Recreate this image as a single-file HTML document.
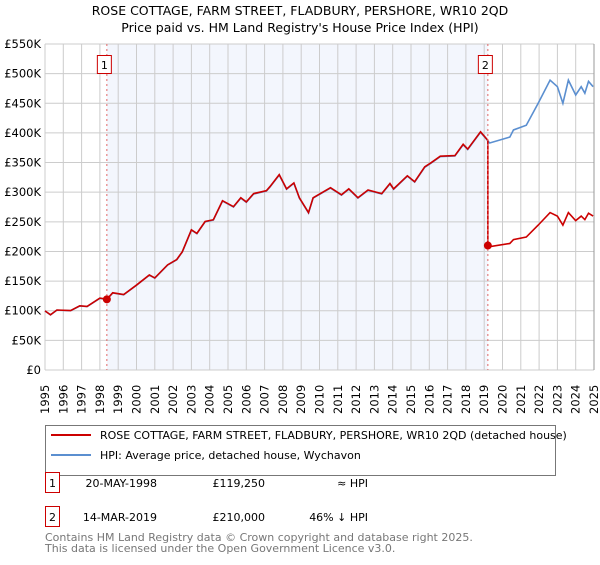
<!DOCTYPE html>
<html><head><meta charset="utf-8"><style>
body{margin:0;background:#fff;font-family:"Liberation Sans","DejaVu Sans",sans-serif;}
svg text{font-family:"DejaVu Sans","Liberation Sans",sans-serif;}
</style></head><body>
<svg id="chart" width="600" height="560" viewBox="0 0 600 560" xmlns="http://www.w3.org/2000/svg">
<text x="300" y="15" text-anchor="middle" font-size="12.5" fill="#000">ROSE COTTAGE, FARM STREET, FLADBURY, PERSHORE, WR10 2QD</text>
<text x="300" y="32" text-anchor="middle" font-size="12.5" fill="#000">Price paid vs. HM Land Registry's House Price Index (HPI)</text>
<g id="plot"></g>
<g>
<rect x="45.5" y="425.5" width="510" height="50" fill="#fff" stroke="#777"/>
<line x1="51" y1="435" x2="91" y2="435" stroke="#cc0000" stroke-width="2"/>
<text x="100" y="439" font-size="11">ROSE COTTAGE, FARM STREET, FLADBURY, PERSHORE, WR10 2QD (detached house)</text>
<line x1="51" y1="455" x2="91" y2="455" stroke="#5b8fd0" stroke-width="2"/>
<text x="100" y="459" font-size="11">HPI: Average price, detached house, Wychavon</text>
</g>
<g>
<rect x="45.5" y="472.5" width="14" height="20" fill="#fff" stroke="#cc0000"/>
<text x="52.5" y="487" text-anchor="middle" font-size="11">1</text>
<text x="157" y="487" text-anchor="end" font-size="11">20-MAY-1998</text>
<text x="265" y="487" text-anchor="end" font-size="11">£119,250</text>
<text x="368" y="487" text-anchor="end" font-size="11">≈ HPI</text>
<rect x="45.5" y="506.5" width="14" height="20" fill="#fff" stroke="#cc0000"/>
<text x="52.5" y="521" text-anchor="middle" font-size="11">2</text>
<text x="157" y="521" text-anchor="end" font-size="11">14-MAR-2019</text>
<text x="265" y="521" text-anchor="end" font-size="11">£210,000</text>
<text x="368" y="521" text-anchor="end" font-size="11">46% ↓ HPI</text>
</g>
<text x="45" y="541" font-size="11" fill="#777">Contains HM Land Registry data © Crown copyright and database right 2025.</text>
<text x="45" y="552" font-size="11" fill="#777">This data is licensed under the Open Government Licence v3.0.</text>
</svg>
<script>
const hpiYears=[1995.0,1995.3,1995.65,1996.4,1996.9,1997.3,1998.0,1998.38,1998.7,1999.3,2000.0,2000.7,2001.0,2001.7,2002.2,2002.5,2003.0,2003.3,2003.75,2004.2,2004.7,2005.3,2005.7,2006.0,2006.4,2007.1,2007.3,2007.8,2008.2,2008.6,2008.9,2009.4,2009.65,2010.6,2011.2,2011.6,2012.1,2012.65,2013.4,2013.85,2014.05,2014.8,2015.2,2015.75,2016.1,2016.6,2017.4,2017.85,2018.1,2018.8,2019.05,2019.3,2020.4,2020.6,2021.3,2021.95,2022.6,2023.0,2023.3,2023.6,2024.0,2024.3,2024.5,2024.7,2024.95];
const hpiValues=[99.5,93,101,100,108,107,121,119,130,127,143,160,155,177,186,199,236,230,250,253,285,275,290,283,297,302,309,329,305,315,290,265,290,307,295,305,290,303,297,314,305,327,317,342,349,360,361,380,372,401,392,383,393,405,413,450,489,478,450,489,464,478,467,487,478];
const saleYears=[1998.38,2019.2];
const salePrices=[119.25,210];
const saleLabels=["1","2"];
const yTicks=[0,50,100,150,200,250,300,350,400,450,500,550];
const yTickLabels=["£0","£50K","£100K","£150K","£200K","£250K","£300K","£350K","£400K","£450K","£500K","£550K"];
const xTicks=[1995,1996,1997,1998,1999,2000,2001,2002,2003,2004,2005,2006,2007,2008,2009,2010,2011,2012,2013,2014,2015,2016,2017,2018,2019,2020,2021,2022,2023,2024,2025];

const L=45,R=594,T=44,B=370;
const x=y=>L+(y-1995)/30*(R-L);
const yv=v=>B-v/550*(B-T);
const NS="http://www.w3.org/2000/svg";
const g=document.getElementById('plot');
function mk(tag,attrs,parent){const e=document.createElementNS(NS,tag);for(const k in attrs)e.setAttribute(k,attrs[k]);(parent||g).appendChild(e);return e;}
const shade=mk('rect',{x:x(saleYears[0]),y:T,width:x(saleYears[1])-x(saleYears[0]),height:B-T,fill:'#f3f6fd'});


xTicks.forEach(t=>{
 const l=mk('line',{x1:x(t),y1:T,x2:x(t),y2:B,stroke:'#cccccc','stroke-width':1});
 
 
 const tx=mk('text',{transform:`translate(${x(t)+4},${B+44}) rotate(-90)`,'font-size':'11.5'});
 tx.textContent=t;
 
 
});
yTicks.forEach((t,i)=>{
 const l=mk('line',{x1:L,y1:yv(t),x2:R,y2:yv(t),stroke:'#cccccc','stroke-width':1});
 
 
 const tx=mk('text',{x:L-4,y:yv(t)+4,'text-anchor':'end','font-size':'11.5'});
 tx.textContent=yTickLabels[i];
 
 
});
const bl=mk('line',{x1:R,y1:T,x2:R,y2:B,stroke:'#999','stroke-width':1});


// HPI line
const hp=hpiYears.map((yr,i)=>x(yr)+','+yv(hpiValues[i])).join(' ');
const hl=mk('polyline',{points:hp,fill:'none',stroke:'#5b8fd0','stroke-width':1.6});


// property line: follows HPI indexed from sale 1, re-indexed at sale 2
function hpiAt(yr){for(let i=1;i<hpiYears.length;i++){if(yr<=hpiYears[i]){const f=(yr-hpiYears[i-1])/(hpiYears[i]-hpiYears[i-1]);return hpiValues[i-1]+f*(hpiValues[i]-hpiValues[i-1]);}}return hpiValues[hpiValues.length-1];}
const r1=salePrices[0]/hpiAt(saleYears[0]), r2=salePrices[1]/hpiAt(saleYears[1]);
let pts=[];
hpiYears.forEach((yr,i)=>{if(yr<saleYears[1])pts.push([yr,hpiValues[i]*r1]);});
pts.push([saleYears[1],hpiAt(saleYears[1])*r1]);
pts.push([saleYears[1],salePrices[1]]);
hpiYears.forEach((yr,i)=>{if(yr>saleYears[1])pts.push([yr,hpiValues[i]*r2]);});
const pl=mk('polyline',{points:pts.map(p=>x(p[0])+','+yv(p[1])).join(' '),fill:'none',stroke:'#cc0000','stroke-width':1.6});


saleYears.forEach((yr,i)=>{
 const d=mk('line',{x1:x(yr),y1:T,x2:x(yr),y2:B,stroke:'#e06666','stroke-width':1,'stroke-dasharray':'2,3'});
 
 
 const c=mk('circle',{cx:x(yr),cy:yv(salePrices[i]),r:4,fill:'#cc0000'});
 
 
 const b=mk('rect',{x:x(yr)-9.5,y:55.5,width:14,height:18,fill:'#fff',stroke:'#cc0000'});
 
 
 const t=mk('text',{x:x(yr)-2.5,y:69,'text-anchor':'middle','font-size':'11'});
 t.textContent=saleLabels[i];
 
 
});
</script>
</body></html>
